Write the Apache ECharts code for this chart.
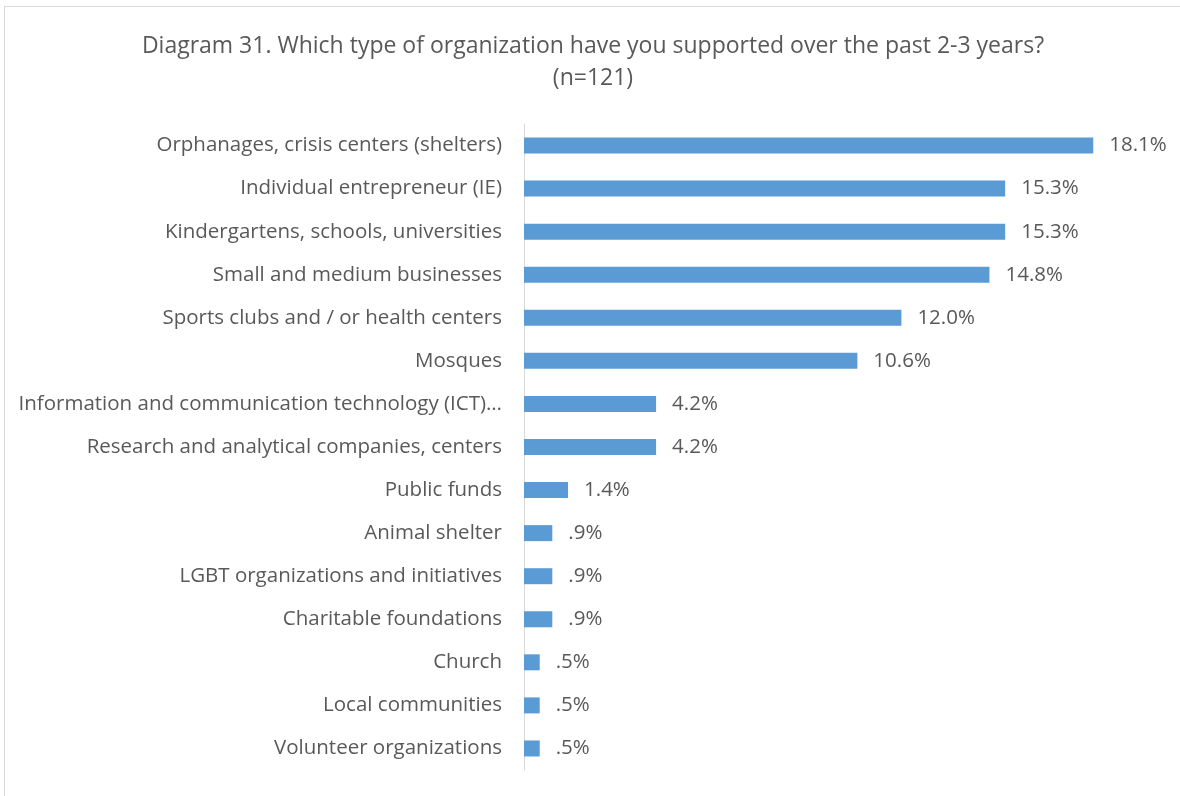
<!DOCTYPE html>
<html>
<head>
<meta charset="utf-8">
<script src="https://cdn.jsdelivr.net/npm/echarts@6/dist/echarts.min.js"></script>
<style>
html,body{margin:0;padding:0;background:#fff;}
#frame{position:absolute;left:4px;top:6px;width:1200px;height:820px;border:1px solid #d9d9d9;box-sizing:border-box;}
#chart{position:absolute;left:0;top:0;width:1180px;height:796px;}
</style>
</head>
<body>
<div id="frame"></div>
<div id="chart"></div>
<script>
const categories = [
  "Orphanages, crisis centers (shelters)",
  "Individual entrepreneur (IE)",
  "Kindergartens, schools, universities",
  "Small and medium businesses",
  "Sports clubs and / or health centers",
  "Mosques",
  "Information and communication technology (ICT)…",
  "Research and analytical companies, centers",
  "Public funds",
  "Animal shelter",
  "LGBT organizations and initiatives",
  "Charitable foundations",
  "Church",
  "Local communities",
  "Volunteer organizations"
];
const values = [18.1, 15.3, 15.3, 14.8, 12.0, 10.6, 4.2, 4.2, 1.4, 0.9, 0.9, 0.9, 0.5, 0.5, 0.5];
const titleLines = ["Diagram 31. Which type of organization have you supported over the past 2-3 years?", "(n=121)"];

const FONT = "'Open Sans', sans-serif";
const chart = echarts.init(document.getElementById('chart'), null, {renderer: 'canvas'});
chart.setOption({
  animation: false,
  backgroundColor: 'transparent',
  title: {
    text: titleLines.join('\n'),
    left: 593, top: 30, textAlign: 'center', padding: 0,
    textStyle: {fontFamily: FONT, fontSize: 23, fontWeight: 'normal', color: '#595959', lineHeight: 32}
  },
  grid: {left: 524, right: 27, top: 124, bottom: 26, containLabel: false},
  xAxis: {
    type: 'value', min: 0, max: 20, show: false
  },
  yAxis: {
    type: 'category', data: categories, inverse: true,
    axisLine: {show: true, lineStyle: {color: '#d9d9d9', width: 1}},
    axisTick: {show: false},
    axisLabel: {fontFamily: FONT, fontSize: 20.5, color: '#595959', margin: 22, padding: [4, 0, 0, 0]}
  },
  series: [{
    type: 'bar', data: values, barWidth: 16,
    itemStyle: {color: '#5b9bd5'},
    label: {
      show: true, position: 'right', distance: 16, padding: [4, 0, 0, 0],
      fontFamily: FONT, fontSize: 20.5, color: '#595959',
      formatter: p => p.value.toFixed(1).replace(/^0\./, '.') + '%'
    }
  }]
});
</script>
</body>
</html>
